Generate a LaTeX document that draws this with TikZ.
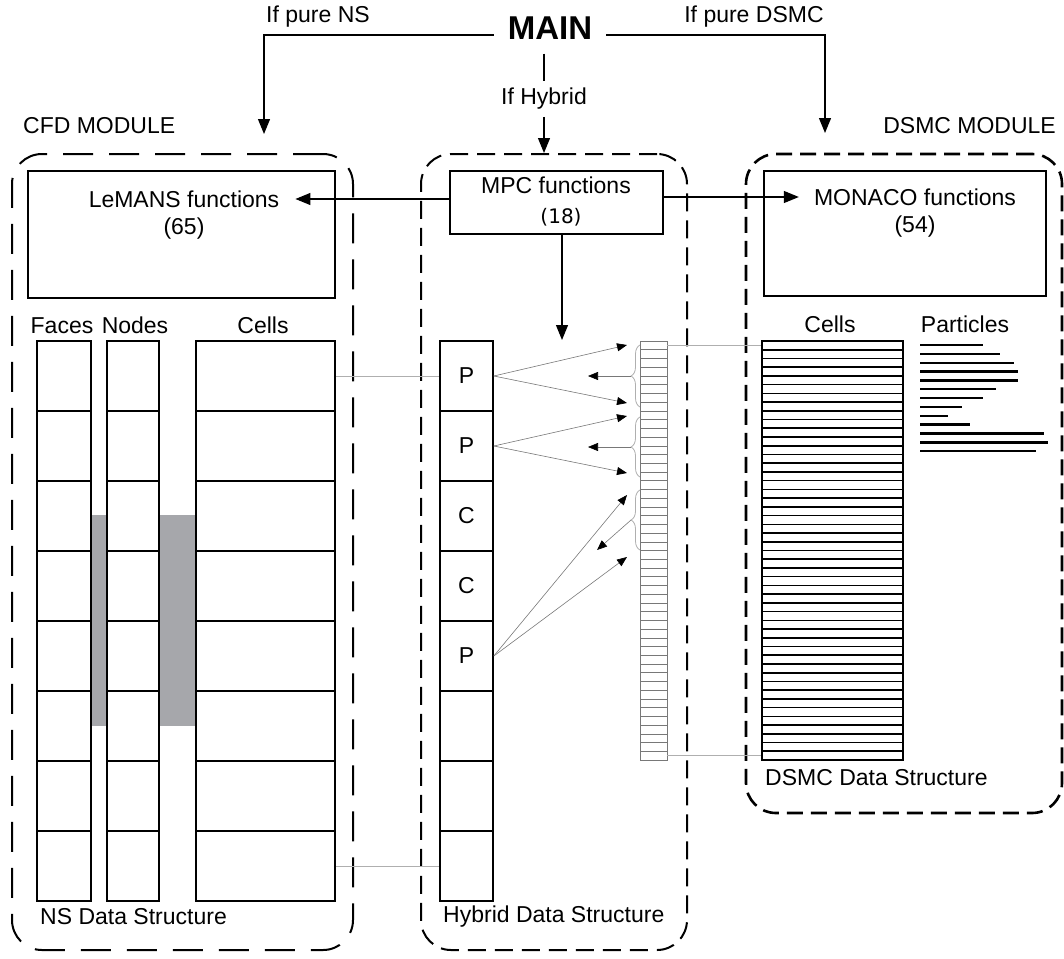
\documentclass[tikz,border=0pt]{standalone}
\usepackage{fontspec}
\setmainfont{Liberation Sans}
\newfontfamily\numfont{DejaVu Sans}
\usepackage{tikz}
\definecolor{shadegray}{RGB}{166,167,171}
\definecolor{linkgray}{RGB}{175,175,175}
\definecolor{rowgray}{RGB}{120,120,120}
\usetikzlibrary{arrows.meta}
\usetikzlibrary{shapes}
\usetikzlibrary{positioning}
\usetikzlibrary{decorations.pathreplacing}

\begin{document}
\begin{tikzpicture}[x=1pt, y=-1pt]
        \tikzset{every node/.style={font=\fontsize{23}{27}\selectfont, inner sep=0pt},
                >={Triangle[black, length=15pt, width=12pt]},
                module/.style={draw, rounded corners=30pt, line width=2pt},
                funcbox/.style={draw, line width=1.3pt},
                cellbox/.style={draw, line width=1.6pt, minimum height=70pt},
                mcrow/.style={draw=rowgray, line width=0.5pt, minimum width=27pt, minimum height=8.729pt},
                dsrow/.style={draw, line width=1.6pt, minimum width=141pt, minimum height=8.729pt},
                link/.style={draw=linkgray, line width=0.8pt},
                garrow/.style={draw=rowgray, line width=0.6pt, -{Triangle[black, length=10pt, width=8pt]}},
                particle/.style={line width=2.4pt},
                every edge/.style={draw=black, line width=1.2pt}}
        \useasboundingbox (0,0) rectangle (1064,958);

        \node[module, dash pattern=on 30pt off 16pt, minimum width=341pt, minimum height=796pt] (cfd) at (182.5,552) {};
        \node[module, dash pattern=on 18pt off 9pt, minimum width=266pt, minimum height=796pt] (hyb) at (554,552) {};
        \node[module, line width=2.6pt, dash pattern=on 16pt off 8pt, minimum width=316pt, minimum height=659pt] (dsmc) at (904,483.5) {};

        \node[anchor=west] (cfdlbl) at (23,126) {CFD MODULE};
        \node[anchor=east] (dsmclbl) at (1056,126) {DSMC MODULE};

        \node[font=\bfseries\fontsize{33}{38}\selectfont, inner sep=14pt] (main) at (550,28) {MAIN};
        \node (purens) at (318,17) {If pure NS};
        \node (puredsmc) at (754,17) {If pure DSMC};
        \node[inner sep=7pt] (hybrid) at (544,99) {If Hybrid};
        \coordinate (nsin) at (264,134);
        \coordinate (dsmcin) at (825,133);

        \draw[->, line width=1.2pt] ([yshift=-7pt]main.west) -| (nsin);
        \draw[->, line width=1.2pt] ([yshift=-7pt]main.east) -| (dsmcin);
        \draw[line width=1.2pt] (main.south -| hybrid.north) -- (hybrid.north);
        \draw[->, line width=1.2pt] (hybrid.south) -- (hybrid.south |- hyb.north);

        \node[funcbox, minimum width=307pt, minimum height=127pt] (lemansbox) at (181.5,234.5) {};
        \node (lemans) at (184,199) {LeMANS functions};
        \node (lemansnum) at (184,229) {(65)};
        \node[funcbox, minimum width=213pt, minimum height=63pt] (mpcbox) at (556.5,202.5) {};
        \node (mpc) at (556,185) {MPC functions};
        \node[font=\numfont\fontsize{20}{24}\selectfont] (mpcnum) at (561,217) {(18)};
        \node[funcbox, minimum width=282pt, minimum height=125pt] (monacobox) at (905,233.5) {};
        \node (monaco) at (915,197) {MONACO functions};
        \node (monaconum) at (915,227) {(54)};

        \path [->] (mpcbox.west |- lemans.east) edge ([xshift=16pt]lemans.east);
        \path [->] (mpcbox.east |- monaco.west) edge ([xshift=-15pt]monaco.west);
        \coordinate (hybtop) at (562,340);
        \path [->] (mpcbox.south -| hybtop) edge (hybtop);

        \node[anchor=base] (faces) at (62,333) {Faces};
        \node[anchor=base] (nodes) at (135,333) {Nodes};
        \node[anchor=base] (cells) at (263,333) {Cells};
        \node[anchor=base] (dcells) at (830,332) {Cells};
        \node[anchor=base] (particles) at (965,332) {Particles};

        \fill[shadegray] (91,515) rectangle (107,726);
        \fill[shadegray] (159,515) rectangle (196,726);
        \foreach \i in {1,...,8} {
            \node[cellbox, minimum width=54pt] (face\i) at (64,{306+70*\i}) {};
            \node[cellbox, minimum width=52pt] (node\i) at (133,{306+70*\i}) {};
            \node[cellbox, minimum width=139pt] (cell\i) at (265.5,{306+70*\i}) {};
        }
        \foreach \i/\lbl in {1/P,2/P,3/C,4/C,5/P,6/,7/,8/}
            \node[cellbox, minimum width=53pt] (hc\i) at (466.5,{306+70*\i}) {\lbl};

        \foreach \i in {1,...,48} {
            \node[mcrow] (mc\i) at (653.5,{341+8.729*(\i-0.5)}) {};
            \node[dsrow] (dc\i) at (832.5,{341+8.729*(\i-0.5)}) {};
        }
        \foreach \i/\len in {1/63,2/80,3/94,4/98,5/98,6/76,7/63,8/42,9/28,10/50,11/124,12/128,13/116}
            \draw[particle] (920,{345+8.85*(\i-1)}) -- ++(\len,0);

        \node[anchor=west] (nsds) at (40,917) {NS Data Structure};
        \node[anchor=west] (hybds) at (443,917) {Hybrid Data Structure};
        \node[anchor=west] (dsmcds) at (765,778) {DSMC Data Structure};

        \draw[link] (cell1.east) -- (hc1.west);
        \draw[link] (cell8.east) -- (hc8.west);
        \draw[link] (mc1.east) -- (dc1.west);
        \draw[link] (mc48.east) -- (dc48.west);

        \draw[link, decorate, decoration={brace, amplitude=9pt}] (640,407) -- (640,345);
        \draw[link, decorate, decoration={brace, amplitude=9pt}] (640,477) -- (640,417);
        \draw[link, decorate, decoration={brace, amplitude=9pt}] (640,550) -- (640,490);
        \coordinate (b1top) at (627,345);
        \coordinate (b1bot) at (627,403);
        \coordinate (b1mid) at (631,376);
        \coordinate (b1out) at (588,376);
        \coordinate (b2top) at (627,416);
        \coordinate (b2bot) at (627,473);
        \coordinate (b2mid) at (631,447);
        \coordinate (b2out) at (588,447);
        \coordinate (b3top) at (627,495);
        \coordinate (b3bot) at (627,557);
        \coordinate (b3mid) at (631,520);
        \coordinate (b3out) at (597,550);

        \draw[garrow] (hc1.east) -- (b1top);
        \draw[garrow] (hc1.east) -- (b1bot);
        \draw[garrow] (b1mid) -- (b1out);
        \draw[garrow] (hc2.east) -- (b2top);
        \draw[garrow] (hc2.east) -- (b2bot);
        \draw[garrow] (b2mid) -- (b2out);
        \draw[garrow] (hc5.east) -- (b3top);
        \draw[garrow] (hc5.east) -- (b3bot);
        \draw[garrow] (b3mid) -- (b3out);

    \end{tikzpicture}
\end{document}
